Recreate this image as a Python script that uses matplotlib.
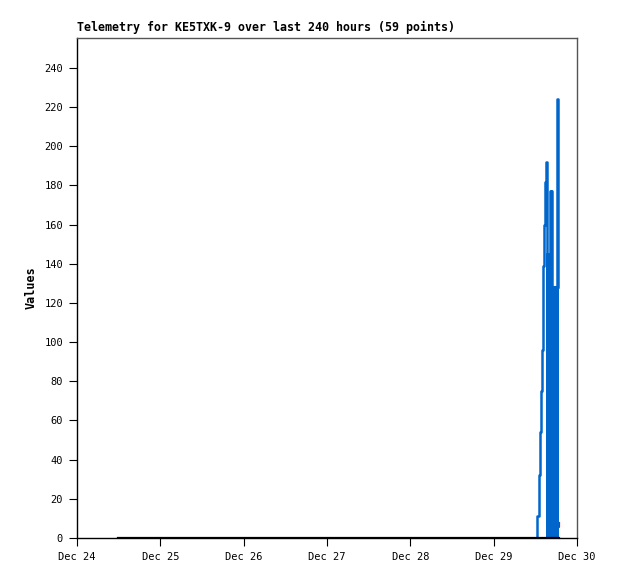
import matplotlib
matplotlib.use("Agg")
import matplotlib.pyplot as plt
import numpy as np

# time offsets in hours from Dec 24 00:00
start = np.datetime64("2023-12-24T00:00")

blue_hours = [132.3, 132.57, 132.97, 133.26, 133.55, 133.83, 134.12, 134.29, 134.58,
              134.87, 135.16, 135.35, 135.5, 135.65, 135.8, 135.95, 136.1, 136.25,
              136.4, 136.55, 136.7, 136.85, 137.0, 137.15, 137.3, 137.45, 137.6,
              137.75, 138.15, 138.28, 138.55, 138.65]
blue_vals = [0, 11, 32, 54, 75, 96, 117, 139, 160,
             182, 192, 0, 145, 0, 145, 0, 145, 177,
             0, 177, 0, 128, 0, 128, 0, 128, 0,
             128, 0, 224, 128, 128]

black_hours = [11.8, 30.0, 55.0, 80.0, 105.0, 125.0, 132.3, 138.7]
black_vals = [0, 0, 0, 0, 0, 0, 0, 0]

red_hours = [137.9, 138.8]
red_vals = [5.8, 7.7]

day_labels = ["Dec 24", "Dec 25", "Dec 26", "Dec 27", "Dec 28", "Dec 29", "Dec 30"]


def to_time(hours):
    return start + (np.array(hours) * 60).astype("timedelta64[m]")


fig = plt.figure(figsize=(6.18, 5.79), dpi=100)
ax = fig.add_axes([77 / 618, 1 - 538 / 579, 500 / 618, 500 / 579])

ax.step(to_time(red_hours), red_vals, where="post", color="#ff0000", lw=1.6, zorder=2)
ax.step(to_time(blue_hours), blue_vals, where="post", color="#0066cc", lw=1.8, zorder=3)
ax.step(to_time(black_hours), black_vals, where="post", color="black", lw=1.6, zorder=4)

ax.set_xlim(start, start + np.timedelta64(6, "D"))
ax.set_ylim(0, 255.3)
ticks = [start + np.timedelta64(i, "D") for i in range(7)]
ax.set_xticks(ticks)
ax.set_xticklabels(day_labels)
ax.set_yticks(np.arange(0, 241, 20))

mono = "DejaVu Sans Mono"
for lab in ax.get_xticklabels() + ax.get_yticklabels():
    lab.set_family(mono)
    lab.set_fontsize(7.5)
ax.tick_params(direction="out", length=6, width=0.8, color="black", pad=4)

for side in ["left", "bottom"]:
    ax.spines[side].set_color("black")
    ax.spines[side].set_linewidth(1.0)
for side in ["top", "right"]:
    ax.spines[side].set_color("#555555")
    ax.spines[side].set_linewidth(1.0)

ax.set_ylabel("Values", family=mono, fontsize=8.5, fontweight="bold", labelpad=5)
fig.text(77 / 618, 1 - 31 / 579, "Telemetry for KE5TXK-9 over last 240 hours (59 points)",
         family=mono, fontsize=8.4, fontweight="bold", ha="left", va="baseline")

fig.savefig("out.png", dpi=100)
